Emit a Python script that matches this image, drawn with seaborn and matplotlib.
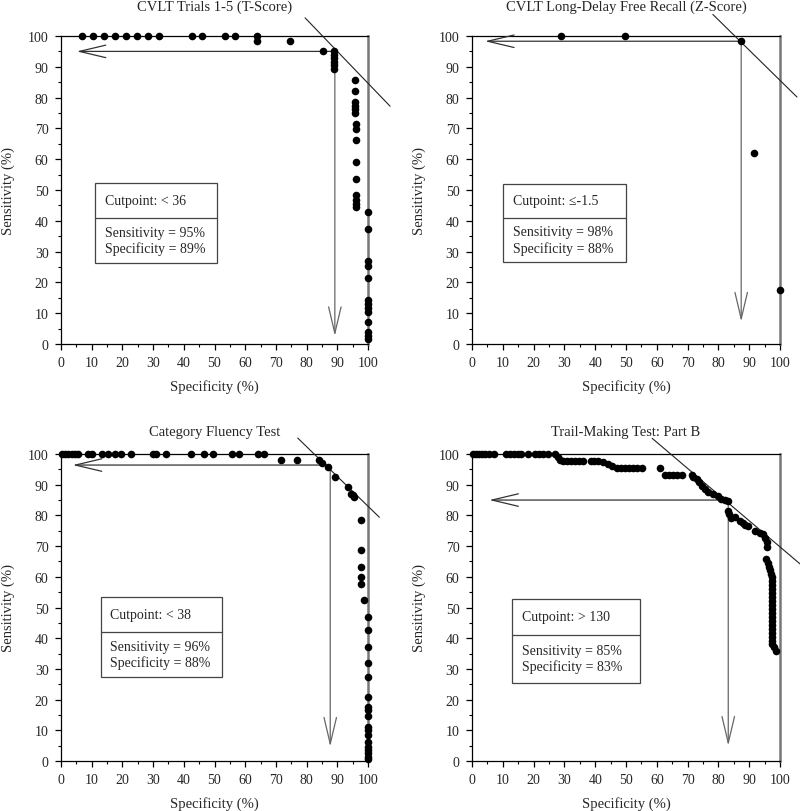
import matplotlib
matplotlib.use("Agg")
import matplotlib.pyplot as plt
import seaborn as sns
import pandas as pd
from matplotlib.patches import Rectangle
from matplotlib.ticker import MultipleLocator

sns.set_theme(style="ticks")
plt.rcParams['font.family'] = ['Liberation Serif', 'DejaVu Serif']

# ---- data (specificity %, sensitivity %) ----
cvlt_trials_spec = [6.8, 10.4, 14.0, 17.6, 21.2, 24.8, 28.3, 31.9, 42.7, 45.9, 53.4, 56.7, 63.8,
                    63.8, 74.6, 85.3, 88.9, 88.9, 88.9, 88.9, 88.9, 88.9,
                    95.8, 95.8, 95.8, 95.8, 95.8, 95.8,
                    96.2, 96.2, 96.2, 96.2, 96.2, 96.2, 96.2, 96.2, 96.2,
                    100, 100, 100, 100, 100, 100, 100, 100, 100, 100, 100, 100, 100]
cvlt_trials_sens = [100, 100, 100, 100, 100, 100, 100, 100, 100, 100, 100, 100, 100,
                    98.5, 98.5, 95.0, 95.0, 93.9, 92.8, 91.7, 90.6, 89.3,
                    85.8, 82.3, 78.7, 77.4, 76.2, 74.9,
                    71.4, 69.8, 66.2, 59.0, 53.6, 48.3, 46.7, 45.6, 44.5,
                    42.9, 37.5, 26.9, 25.3, 21.5, 14.4, 13.0, 11.7, 10.5, 7.3, 3.8, 2.7, 1.6]

cvlt_delay_spec = [28.9, 49.7, 87.2, 91.5, 100]
cvlt_delay_sens = [100, 100, 98.3, 62.0, 17.5]

fluency_spec = [0.2, 1.3, 2.4, 3.5, 4.6, 5.6, 8.9, 10.0, 13.2, 15.4, 17.6, 19.4, 22.7, 30.1, 30.8,
                34.1, 42.3, 46.6, 49.6, 55.8, 58.0, 64.3, 66.2,
                71.5, 76.8, 83.9, 84.9, 87.0, 89.2, 93.4, 94.4, 95.2, 95.5,
                97.6, 97.6, 97.6, 97.6, 97.6, 98.7,
                100, 100, 100, 100, 100, 100, 100, 100, 100, 100, 100, 100, 100, 100, 100, 100, 100, 100]
fluency_sens = [100, 100, 100, 100, 100, 100, 100, 100, 100, 100, 100, 100, 100, 100, 100,
                100, 100, 100, 100, 100, 100, 100, 100,
                98.0, 98.0, 98.0, 97.0, 95.9, 92.6, 89.3, 87.1, 86.5, 86.0,
                78.5, 68.6, 63.3, 60.0, 57.8, 52.4,
                46.9, 42.6, 37.2, 31.8, 27.4, 20.9, 17.7, 16.6, 14.5, 11.2, 10.1, 8.5, 6.3, 4.7, 3.6, 2.5, 1.4, 0.6]

trails_spec = [0.3, 1.3, 2.3, 3.3, 4.3, 5.5, 7.3,
               11.0, 12.3, 13.5, 14.8, 16.0, 18.3,
               20.5, 21.8, 23.2, 24.6,
               27.0, 27.8, 28.6,
               29.6, 30.8, 32.0, 33.3, 34.6, 36.0,
               38.5, 39.7, 41.0, 42.5, 44.0, 45.5,
               47.0, 48.3, 49.6, 51.0, 52.3, 53.6, 55.3, 61.0,
               62.7, 64.0, 65.3, 66.6, 68.3,
               71.3, 71.9, 72.9, 73.7, 74.6, 75.6, 76.7, 78.3, 80.0, 81.0, 82.1, 83.2,
               83.2, 83.6, 84.0, 85.5, 87.0, 88.0, 88.6, 89.5, 91.9, 93.5, 94.6, 95.2, 95.7, 95.7,
               95.5, 96.0, 96.3, 96.6, 97.0, 97.3,
               97.3, 97.3, 97.3, 97.3, 97.3, 97.3, 97.3, 97.3, 97.3, 97.3, 97.3, 97.3, 97.3, 97.3,
               97.3, 97.3, 97.3, 98.2, 98.7]
trails_sens = [100, 100, 100, 100, 100, 100, 100,
               100, 100, 100, 100, 100, 100,
               100, 100, 100, 100,
               100, 99.0, 98.0,
               97.8, 97.8, 97.8, 97.8, 97.8, 97.8,
               97.8, 97.8, 97.8, 97.3, 96.6, 96.2,
               95.4, 95.4, 95.4, 95.4, 95.4, 95.4, 95.4, 95.5,
               93.3, 93.3, 93.3, 93.3, 93.3,
               93.2, 92.4, 91.9, 90.8, 89.7, 88.6, 87.5, 87.0, 86.4, 85.3, 85.1, 84.8,
               81.5, 80.5, 79.3, 79.6, 78.3, 77.6, 77.0, 76.5, 75.0, 74.4, 73.9, 72.5, 71.2, 69.6,
               65.8, 64.5, 63.3, 62.2, 61.0, 60.0,
               58.7, 57.4, 56.1, 54.8, 53.5, 52.2, 50.9, 49.6, 48.3, 47.0, 45.7, 44.4, 43.1, 41.8,
               40.5, 39.2, 38.0, 37.0, 35.8]

titles = ["CVLT Trials 1-5 (T-Score)", "CVLT Long-Delay Free Recall (Z-Score)",
          "Category Fluency Test", "Trail-Making Test: Part B"]
cutpoints = ["< 36", "≤-1.5", "< 38", "> 130"]
reported_sens = [95, 98, 96, 85]
reported_spec = [89, 88, 88, 83]
cut_spec = [89.2, 87.4, 87.7, 83.2]
cut_sens = [95.0, 98.3, 96.4, 85.0]

series = [(cvlt_trials_spec, cvlt_trials_sens), (cvlt_delay_spec, cvlt_delay_sens),
          (fluency_spec, fluency_sens), (trails_spec, trails_sens)]

# ---- layout / annotation geometry ----
W, H = 800, 812
axes_px = [(61, 37, 368, 345), (472, 37, 780, 345), (61, 455, 368, 762), (472, 455, 780, 762)]
title_pad = [19, 19, 14, 14]
arrow_tips = [(5.1, 2.6), (4.2, 7.3), (3.8, 4.7), (5.6, 5.0)]
tangents = [((79.5, 105.9), (107.2, 77.2)), ((78.2, 107.0), (105.5, 80.2)),
            ((77.1, 105.2), (103.7, 79.4)), ((58.5, 105.1), (106.5, 64.2))]
boxes = [(11.2, 50.7, 26.3, 52.3, 41.0), (10.0, 50.0, 26.6, 52.0, 41.0),
         (12.9, 52.3, 27.4, 53.4, 42.0), (13.0, 54.5, 25.5, 52.8, 41.2)]

fig = plt.figure(figsize=(W / 100, H / 100), dpi=100)

for i in range(4):
    x0, y0, x1, y1 = axes_px[i]
    ax = fig.add_axes([x0 / W, 1 - y1 / H, (x1 - x0) / W, (y1 - y0) / H])
    df = pd.DataFrame({"spec": series[i][0], "sens": series[i][1]})
    sns.scatterplot(data=df, x="spec", y="sens", ax=ax, color="black", s=30,
                    linewidth=0, clip_on=False, zorder=4, legend=False)

    ax.set_xlim(0, 100)
    ax.set_ylim(0, 100)
    ax.xaxis.set_major_locator(MultipleLocator(10))
    ax.xaxis.set_minor_locator(MultipleLocator(5))
    ax.yaxis.set_major_locator(MultipleLocator(10))
    ax.yaxis.set_minor_locator(MultipleLocator(5))
    ax.tick_params(which="major", direction="out", length=4, width=0.9, labelsize=10,
                   pad=5, color="black")
    ax.tick_params(which="minor", direction="out", length=2.5, width=0.8, color="black")
    for side in ["left", "bottom", "top"]:
        ax.spines[side].set_color("black")
        ax.spines[side].set_linewidth(0.9)
    ax.spines["right"].set_color("#777777")
    ax.spines["right"].set_linewidth(1.8)

    ax.set_xlabel("Specificity (%)", fontsize=10.5, labelpad=7)
    ax.set_ylabel("Sensitivity (%)", fontsize=10.5, labelpad=9)
    ax.set_title(titles[i], fontsize=10.5, pad=title_pad[i])

    # cut-point arrows
    cs, cn = cut_spec[i], cut_sens[i]
    tx, ty = arrow_tips[i]
    head = "->,head_length=1.9,head_width=0.45"
    ax.annotate("", xy=(tx, cn), xytext=(cs, cn),
                arrowprops=dict(arrowstyle=head, color="#333333", lw=0.9,
                                shrinkA=0, shrinkB=0, mutation_scale=10))
    ax.annotate("", xy=(cs, ty), xytext=(cs, cn),
                arrowprops=dict(arrowstyle=head, color="#666666", lw=0.9,
                                shrinkA=0, shrinkB=0, mutation_scale=10))

    # tangent line
    (ax_, ay_), (bx_, by_) = tangents[i]
    ax.plot([ax_, bx_], [ay_, by_], color="#222222", lw=0.8, clip_on=False, zorder=3)

    # cut-point box
    bx0, bx1, by0, by1, bsep = boxes[i]
    ax.add_patch(Rectangle((bx0, by0), bx1 - bx0, by1 - by0, fill=False,
                           edgecolor="#444444", lw=0.9, zorder=2))
    ax.plot([bx0, bx1], [bsep, bsep], color="#444444", lw=0.9, zorder=2)
    ax.text(bx0 + 3.2, (by1 + bsep) / 2, f"Cutpoint: {cutpoints[i]}", fontsize=10,
            va="center", ha="left")
    ax.text(bx0 + 3.2, (bsep + by0) / 2,
            f"Sensitivity = {reported_sens[i]}%\nSpecificity = {reported_spec[i]}%",
            fontsize=10, va="center", ha="left", linespacing=1.25)

fig.savefig("out.png", dpi=100)
